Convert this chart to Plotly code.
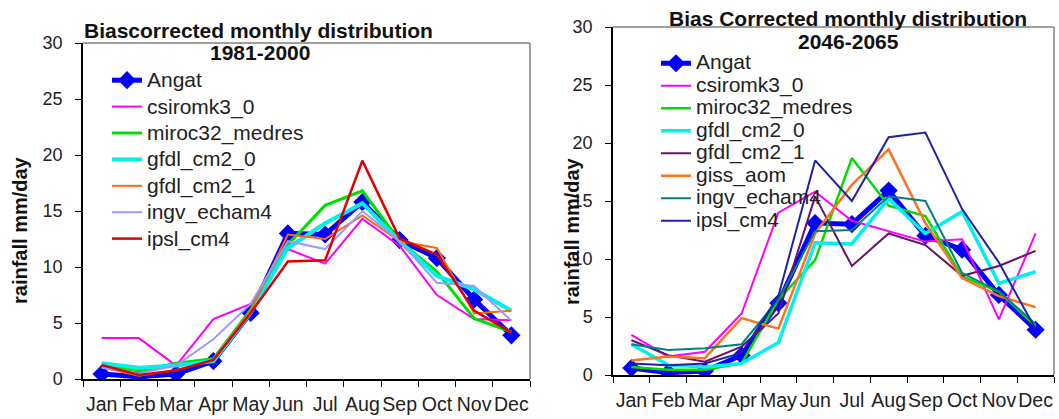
import plotly.graph_objects as go

W, H = 1059, 419

months = ["Jan", "Feb", "Mar", "Apr", "May", "Jun", "Jul", "Aug", "Sep", "Oct", "Nov", "Dec"]

# ---- 1981-2000 (left panel) ----
names_left = ["Angat", "csiromk3_0", "miroc32_medres", "gfdl_cm2_0", "gfdl_cm2_1", "ingv_echam4", "ipsl_cm4"]
angat_l      = [0.45, 0.2, 0.45, 1.6, 5.9, 13.0, 12.9, 15.8, 12.4, 10.8, 7.1, 3.9]
csiromk3_0_l = [3.65, 3.65, 1.2, 5.35, 6.7, 11.6, 10.3, 14.3, 11.9, 7.5, 5.35, 5.25]
miroc32_l    = [1.35, 0.7, 1.4, 1.8, 6.2, 12.0, 15.5, 16.8, 12.3, 9.6, 5.4, 4.2]
gfdl_cm2_0_l = [1.4, 1.0, 1.2, 1.6, 5.9, 11.7, 13.9, 15.7, 12.3, 9.2, 8.0, 6.1]
gfdl_cm2_1_l = [1.05, 0.3, 0.8, 1.7, 6.1, 12.9, 12.5, 14.6, 12.3, 11.7, 5.85, 6.1]
ingv_l       = [1.0, 0.5, 1.2, 3.55, 6.7, 12.3, 11.6, 15.0, 12.3, 8.6, 8.3, 5.2]
ipsl_l       = [1.25, 0.35, 0.75, 1.7, 5.9, 10.5, 10.6, 19.5, 12.55, 11.1, 6.1, 4.15]

# ---- 2046-2065 (right panel) ----
names_right = ["Angat", "csiromk3_0", "miroc32_medres", "gfdl_cm2_0", "gfdl_cm2_1", "giss_aom", "ingv_echam4", "ipsl_cm4"]
angat_r      = [0.6, 0.2, 0.35, 1.7, 6.2, 13.1, 13.0, 15.9, 12.0, 10.8, 6.9, 3.9]
csiromk3_0_r = [3.45, 1.6, 2.0, 5.3, 14.0, 15.8, 13.3, 12.4, 11.5, 11.7, 4.8, 12.2]
miroc32_r    = [0.7, 0.45, 0.45, 1.0, 6.5, 9.9, 18.7, 14.6, 13.7, 8.5, 7.2, 4.2]
gfdl_cm2_0_r = [2.65, 0.85, 0.7, 1.0, 2.8, 11.4, 11.3, 15.2, 12.2, 14.1, 7.9, 8.9]
gfdl_cm2_1_r = [3.0, 1.7, 1.15, 2.45, 5.3, 15.4, 9.4, 12.2, 11.2, 8.55, 9.4, 10.7]
giss_aom_r   = [1.25, 1.6, 1.45, 4.9, 4.0, 12.2, 16.4, 19.45, 13.1, 8.35, 6.8, 5.85]
ingv_r       = [2.65, 2.15, 2.3, 2.65, 6.5, 12.4, 12.5, 15.4, 15.0, 8.8, 7.2, 4.4]
ipsl_r       = [1.0, 0.85, 1.0, 1.9, 6.8, 18.5, 15.0, 20.5, 20.9, 14.3, 9.7, 3.95]

series_left = [angat_l, csiromk3_0_l, miroc32_l, gfdl_cm2_0_l, gfdl_cm2_1_l, ingv_l, ipsl_l]
colors_left = ["#0000FF", "#FF00FF", "#00DD00", "#00F0F0", "#FF6A00", "#9999FF", "#E00000"]
widths_left = [5, 2, 3, 4, 2, 2, 2.5]

series_right = [angat_r, csiromk3_0_r, miroc32_r, gfdl_cm2_0_r, gfdl_cm2_1_r, giss_aom_r, ingv_r, ipsl_r]
colors_right = ["#0000FF", "#FF00FF", "#00DD00", "#00F0F0", "#6B106B", "#FF7020", "#008080", "#2020A8"]
widths_right = [5, 2, 2.5, 3.5, 2, 2.5, 2, 2]

FONT = "Liberation Sans, Arial, sans-serif"


def px(x):
    return x / W


def py(y):
    return 1 - y / H


fig = go.Figure()


def add_series(names, series, colors, widths, xa, ya, leg):
    for n, vals, c, w in zip(names, series, colors, widths):
        label = '<span style="font-size:21px">' + n + '</span>'
        if n == "Angat":
            fig.add_trace(go.Scatter(
                x=months, y=vals, mode="lines+markers", name=label,
                line=dict(color=c, width=w),
                marker=dict(symbol="diamond", size=14, color=c),
                xaxis=xa, yaxis=ya, legend=leg))
        else:
            fig.add_trace(go.Scatter(
                x=months, y=vals, mode="lines", name=label,
                line=dict(color=c, width=w),
                xaxis=xa, yaxis=ya, legend=leg))


add_series(names_left, series_left, colors_left, widths_left, "x", "y", "legend")
add_series(names_right, series_right, colors_right, widths_right, "x2", "y2", "legend2")

xax = dict(type="category", range=[-0.5, 11.5], showline=True, linecolor="black", linewidth=1.5,
           ticks="outside", tickson="boundaries", ticklen=6, tickcolor="black", tickwidth=1.2,
           tickangle=0, automargin=False,
           tickfont=dict(size=19.5, family=FONT, color="#222"), showgrid=False, zeroline=False,
           ticklabelstandoff=7, fixedrange=True)
yax = dict(range=[0, 30], dtick=5, showline=True, linecolor="black", linewidth=1.5,
           ticks="outside", ticklen=6, tickcolor="black", tickwidth=1.2, automargin=False,
           tickfont=dict(size=18, family=FONT, color="#222"), showgrid=False, zeroline=False,
           ticklabelstandoff=9, fixedrange=True)

fig.update_layout(
    width=W, height=H, margin=dict(l=0, r=0, t=0, b=0, pad=0, autoexpand=False),
    paper_bgcolor="white", plot_bgcolor="white",
    font=dict(family=FONT, color="#222"),
    xaxis=dict(xax, domain=[px(83), px(530)], anchor="y"),
    yaxis=dict(yax, domain=[py(379), py(43)], anchor="x"),
    xaxis2=dict(xax, domain=[px(613), px(1054)], anchor="y2"),
    yaxis2=dict(yax, domain=[py(375), py(27)], anchor="x2"),
    legend=dict(x=px(107), y=py(62), xanchor="left", yanchor="top",
                font=dict(size=18, family=FONT, color="#222"),
                bgcolor="rgba(0,0,0,0)", borderwidth=0, tracegroupgap=0),
    legend2=dict(x=px(656), y=py(47), xanchor="left", yanchor="top",
                 font=dict(size=15, family=FONT, color="#222"),
                 bgcolor="rgba(0,0,0,0)", borderwidth=0, tracegroupgap=0),
    showlegend=True,
)

# plot frame (top and right edges in grey)
for xr, yr in (("x domain", "y domain"), ("x2 domain", "y2 domain")):
    fig.add_shape(type="line", xref=xr, yref=yr, x0=0, x1=1, y0=1, y1=1,
                  line=dict(color="#808080", width=1.5))
    fig.add_shape(type="line", xref=xr, yref=yr, x0=1, x1=1, y0=0, y1=1,
                  line=dict(color="#808080", width=1.5))

bold = dict(family=FONT, size=21, color="#111")
annos = [
    dict(text="<b>Biascorrected monthly distribution</b>", x=px(258), y=py(31)),
    dict(text="<b>1981-2000</b>", x=px(260), y=py(53)),
    dict(text="<b>Bias Corrected monthly distribution</b>", x=px(848), y=py(18)),
    dict(text="<b>2046-2065</b>", x=px(848), y=py(42)),
]
for a in annos:
    fig.add_annotation(xref="paper", yref="paper", showarrow=False, xanchor="center",
                       yanchor="middle", font=bold, **a)

for xc, yc in ((20, 230), (572, 231)):
    fig.add_annotation(text="<b>rainfall mm/day</b>", xref="paper", yref="paper",
                       x=px(xc), y=py(yc), textangle=-90, showarrow=False,
                       xanchor="center", yanchor="middle", font=dict(family=FONT, size=20, color="#111"))

fig.write_html("out.html")
